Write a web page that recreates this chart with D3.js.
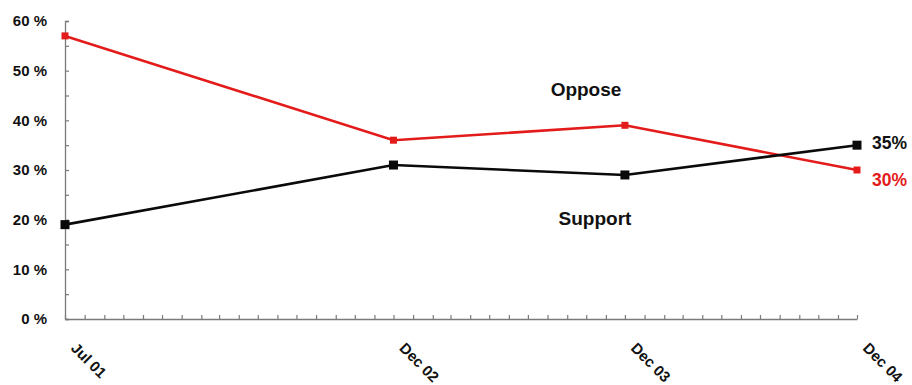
<!DOCTYPE html>
<html>
<head>
<meta charset="utf-8">
<script src="https://cdn.jsdelivr.net/npm/d3@7"></script>
<style>
  html, body { margin: 0; padding: 0; background: #fff; }
  svg text { font-family: Arial, "Liberation Sans", sans-serif; font-weight: bold; }
</style>
</head>
<body>
<svg id="chart" width="912" height="385"></svg>
<script>
// Survey dates (month starts) and the two answer series, in percent
const dates = ["2001-07", "2002-12", "2003-12", "2004-12"];
const dateLabels = ["Jul 01", "Dec 02", "Dec 03", "Dec 04"];
const oppose = [57, 36, 39, 30];
const support = [19, 31, 29, 35];
const yTicks = [0, 10, 20, 30, 40, 50, 60];

const parse = d3.timeParse("%Y-%m");
const when = dates.map(parse);

const svg = d3.select("#chart");
const margin = { left: 65, right: 55, top: 21, bottom: 66 };
const W = 912, H = 385;

const x = d3.scaleTime()
  .domain([when[0], when[when.length - 1]])
  .range([margin.left, W - margin.right]);
const y = d3.scaleLinear()
  .domain([0, 60])
  .range([H - margin.bottom, margin.top]);

const axisColor = "#7a7a7a";

// Y axis: labelled major ticks every 10 %, minor ticks in between
const yAxis = svg.append("g")
  .attr("transform", `translate(${margin.left},0)`)
  .call(d3.axisRight(y).tickValues(d3.range(0, 61, 5)).tickSize(4).tickFormat(""));
yAxis.select(".domain").attr("stroke", axisColor).attr("stroke-width", 1.3);
yAxis.selectAll(".tick line").attr("stroke", axisColor).attr("stroke-width", 1.2);

svg.append("g").selectAll("text")
  .data(yTicks)
  .join("text")
  .attr("x", 47)
  .attr("y", d => y(d))
  .attr("dy", "0.36em")
  .attr("text-anchor", "end")
  .attr("font-size", 15)
  .attr("fill", "#111")
  .text(d => d + " %");

// X axis: one small tick per month, pointing up
const months = d3.timeMonth.range(when[0], d3.timeMonth.offset(when[when.length - 1], 1));
const xAxis = svg.append("g")
  .attr("transform", `translate(0,${y(0)})`)
  .call(d3.axisTop(x).tickValues(months).tickSize(4).tickSizeOuter(0).tickFormat(""));
xAxis.select(".domain").attr("stroke", axisColor).attr("stroke-width", 1.3);
xAxis.selectAll(".tick line").attr("stroke", axisColor).attr("stroke-width", 1.2);

// Slanted date labels at the survey dates
svg.append("g").selectAll("text")
  .data(when)
  .join("text")
  .attr("transform", d => `translate(${x(d) + 5},${y(0) + 30}) rotate(45)`)
  .attr("font-size", 15)
  .attr("fill", "#111")
  .text((d, i) => dateLabels[i]);

// Lines with square markers
const line = d3.line()
  .x((d, i) => x(when[i]))
  .y(d => y(d));

function drawSeries(values, color, size) {
  svg.append("path")
    .datum(values)
    .attr("fill", "none")
    .attr("stroke", color)
    .attr("stroke-width", 2.6)
    .attr("d", line);
  svg.append("g").selectAll("rect")
    .data(values)
    .join("rect")
    .attr("x", (d, i) => x(when[i]) - size / 2)
    .attr("y", d => y(d) - size / 2)
    .attr("width", size)
    .attr("height", size)
    .attr("fill", color);
}

const red = "#e31b1b";
const black = "#0a0a0a";
drawSeries(oppose, red, 7);
drawSeries(support, black, 9);

// Series names
svg.append("text")
  .attr("x", 586).attr("y", 96)
  .attr("text-anchor", "middle")
  .attr("font-size", 19)
  .attr("fill", "#111")
  .text("Oppose");
svg.append("text")
  .attr("x", 595).attr("y", 225)
  .attr("text-anchor", "middle")
  .attr("font-size", 19)
  .attr("fill", "#111")
  .text("Support");

// End-point value labels
const last = when.length - 1;
svg.append("text")
  .attr("x", x(when[last]) + 15)
  .attr("y", y(support[last]) + 4)
  .attr("font-size", 17.5)
  .attr("fill", "#111")
  .text(support[last] + "%");
svg.append("text")
  .attr("x", x(when[last]) + 15)
  .attr("y", y(oppose[last]) + 16)
  .attr("font-size", 17.5)
  .attr("fill", red)
  .text(oppose[last] + "%");
</script>
</body>
</html>
